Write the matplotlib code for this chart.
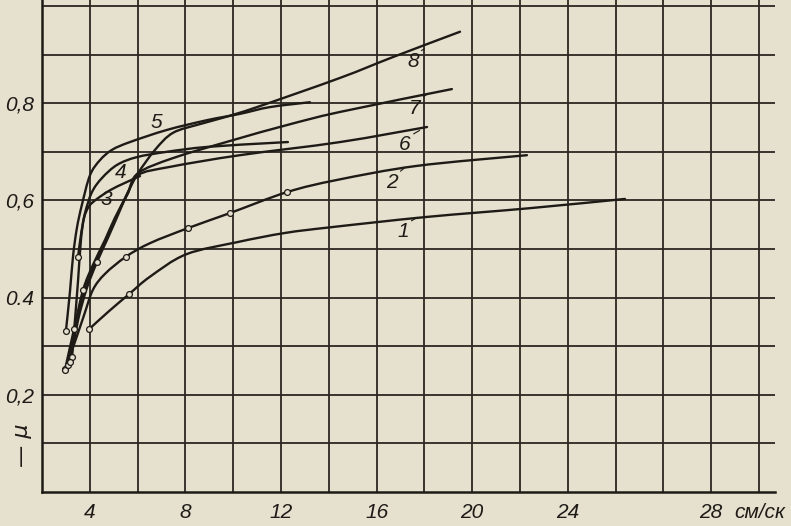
import matplotlib
matplotlib.use("Agg")
import matplotlib.pyplot as plt
import matplotlib.transforms as mtransforms
from matplotlib.path import Path
from matplotlib.patches import PathPatch
import numpy as np

# ---------------- data ----------------
x1 = [3.97, 4.80, 5.64, 6.52, 8.03, 10.16, 12.17, 14.13, 18.11, 22.42, 26.39]
y1 = [0.335, 0.372, 0.407, 0.443, 0.489, 0.514, 0.533, 0.545, 0.566, 0.584, 0.603]

x2 = [2.96, 3.26, 3.76, 4.13, 4.64, 5.51, 6.52, 8.11, 9.87, 12.25, 14.34, 17.69, 22.29]
y2 = [0.253, 0.292, 0.364, 0.416, 0.449, 0.484, 0.512, 0.543, 0.574, 0.617, 0.642, 0.671, 0.693]

x3 = [3.26, 3.38, 3.51, 3.63, 3.76, 3.97, 4.30, 4.85, 5.47, 6.10]
y3 = [0.278, 0.354, 0.436, 0.519, 0.564, 0.588, 0.603, 0.621, 0.636, 0.650]

x4 = [3.51, 3.63, 3.80, 4.09, 4.51, 5.14, 5.97, 7.23, 8.90, 11.54, 12.29]
y4 = [0.484, 0.529, 0.574, 0.617, 0.646, 0.673, 0.689, 0.700, 0.710, 0.718, 0.720]

x5 = [3.00, 3.17, 3.30, 3.46, 3.67, 4.01, 4.43, 4.93, 5.68, 7.23, 8.90, 10.28, 11.54, 13.21]
y5 = [0.331, 0.412, 0.486, 0.543, 0.591, 0.652, 0.683, 0.704, 0.720, 0.745, 0.765, 0.778, 0.792, 0.802]

x6 = [2.96, 3.34, 3.72, 4.13, 4.64, 5.05, 5.56, 6.02, 7.36, 10.28, 14.47, 18.11]
y6 = [0.251, 0.335, 0.416, 0.467, 0.519, 0.564, 0.611, 0.652, 0.669, 0.693, 0.720, 0.751]

x7 = [3.09, 3.42, 3.80, 4.22, 4.72, 5.14, 5.60, 6.02, 7.48, 9.99, 12.25, 14.47, 19.15]
y7 = [0.261, 0.344, 0.416, 0.471, 0.523, 0.570, 0.617, 0.656, 0.687, 0.724, 0.755, 0.782, 0.829]

x8 = [3.17, 3.51, 3.88, 4.30, 4.76, 5.18, 5.60, 6.02, 6.73, 7.48, 8.61, 9.57, 11.00, 14.47, 16.69, 19.49]
y8 = [0.267, 0.354, 0.420, 0.473, 0.523, 0.570, 0.617, 0.656, 0.704, 0.739, 0.757, 0.770, 0.792, 0.852, 0.895, 0.947]

curve_names = ["1", "2", "3", "4", "5", "6", "7", "8"]

x_tick_values = [4, 8, 12, 16, 20, 24, 30]
x_tick_labels = ["4", "8", "12", "16", "20", "24", "28"]
x_unit = "см/ск"
y_tick_values = [0.2, 0.4, 0.6, 0.8]
y_tick_labels = ["0,2", "0.4", "0,6", "0,8"]
y_label = "— μ"

# label positions (text) and where the small leader touches the curve
label_pos = {"1": (17.1, 0.535), "2": (16.64, 0.636), "3": (4.68, 0.601),
             "4": (5.31, 0.658), "5": (6.77, 0.761), "6": (17.19, 0.714),
             "7": (17.6, 0.790), "8": (17.52, 0.885)}
leader_to = {"1": (17.7, 0.565), "2": (17.2, 0.668), "6": (17.8, 0.744),
             "7": (18.1, 0.818), "8": (18.0, 0.912)}

# ---------------- styling ----------------
BG = "#e6e0cf"
INK = "#1e1b17"
GRID = "#2b2722"

fig = plt.figure(figsize=(7.91, 5.26), dpi=100, facecolor=BG)
ax = fig.add_axes([42 / 791, (526 - 492) / 526, (775 - 42) / 791, 492 / 526])
ax.set_facecolor(BG)
ax.set_xlim(2, 32.67)
ax.set_ylim(0, 1.0123)

# grid (ruled paper): every 2 units in x, every 0.1 in y
for gx in range(4, 33, 2):
    ax.axvline(gx, color=GRID, lw=1.3, zorder=1)
for i in range(1, 11):
    ax.axhline(0.1 * i, color=GRID, lw=1.3, zorder=1)

for s in ["top", "right"]:
    ax.spines[s].set_visible(False)
for s in ["left", "bottom"]:
    ax.spines[s].set_color(INK)
    ax.spines[s].set_linewidth(1.8)

tick_font = dict(family="Liberation Sans", style="italic", size=15, color=INK)
ax.set_xticks(x_tick_values)
ax.set_xticklabels(x_tick_labels, **tick_font)
ax.set_yticks(y_tick_values)
ax.set_yticklabels(y_tick_labels, **tick_font)
ax.tick_params(which="both", length=0)
ax.tick_params(axis="x", pad=8)
ax.tick_params(axis="y", pad=6)

trans = mtransforms.blended_transform_factory(ax.transData, ax.transAxes)
ax.text(30.95, -0.0225, x_unit, transform=trans, ha="left", va="top",
        family="Liberation Sans", style="italic", size=15, color=INK)
ax.text(-0.027, 0.095, y_label, transform=ax.transAxes, rotation=90,
        ha="center", va="center", family="DejaVu Sans", style="italic",
        size=16, color=INK)


def smooth_path(xs, ys, tension=0.5):
    """Catmull-Rom style Bezier path through the data points (drawn in data space)."""
    p = np.column_stack([xs, ys]).astype(float)
    sx, sy = 23.9, 486.0
    q = p * [sx, sy]
    verts = [tuple(p[0])]
    codes = [Path.MOVETO]
    n = len(q)
    for i in range(n - 1):
        p0 = q[i - 1] if i > 0 else q[i]
        p1, p2 = q[i], q[i + 1]
        p3 = q[i + 2] if i + 2 < n else q[i + 1]
        c1 = p1 + (p2 - p0) * tension / 3
        c2 = p2 - (p3 - p1) * tension / 3
        for c in (c1, c2, p2):
            verts.append(tuple(c / [sx, sy]))
            codes.append(Path.CURVE4)
    return Path(verts, codes)


series = [(x1, y1), (x2, y2), (x3, y3), (x4, y4), (x5, y5), (x6, y6), (x7, y7), (x8, y8)]
marks = {"1": [0, 2], "2": [0, 5, 7, 8, 9], "3": [0], "4": [0], "5": [0],
         "6": [0, 1, 2], "7": [0], "8": [0, 3]}
for name, (xs, ys) in zip(curve_names, series):
    ax.add_patch(PathPatch(smooth_path(xs, ys), fill=False, edgecolor=INK,
                           lw=1.7, capstyle="round", zorder=3))
    mx = [xs[i] for i in marks[name]]
    my = [ys[i] for i in marks[name]]
    ax.plot(mx, my, ls="none", marker="o", ms=4.2, mfc=BG, mec=INK, mew=0.9,
            zorder=4)

for name in curve_names:
    lx, ly = label_pos[name]
    if name in leader_to:
        ax.annotate(name, xy=leader_to[name], xytext=(lx, ly),
                    ha="center", va="center", family="Liberation Sans",
                    style="italic", size=15, color=INK, zorder=5,
                    arrowprops=dict(arrowstyle="-", color=INK, lw=0.8,
                                    shrinkA=0, shrinkB=0, relpos=(1.0, 1.0)))
    else:
        ax.text(lx, ly, name, ha="center", va="center", family="Liberation Sans",
                style="italic", size=15, color=INK, zorder=5)

fig.savefig("out.png", dpi=100, facecolor=BG)
